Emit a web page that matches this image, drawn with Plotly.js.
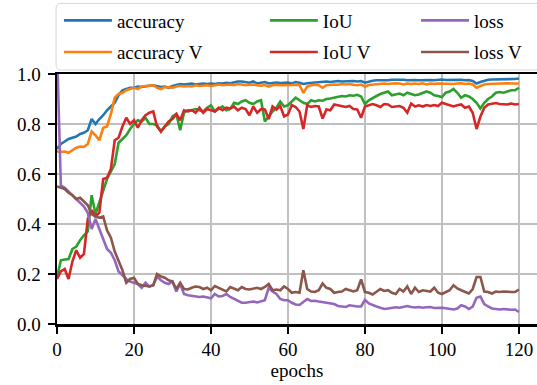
<!DOCTYPE html>
<html>
<head>
<meta charset="utf-8">
<script src="https://cdn.plot.ly/plotly-3.0.1.min.js"></script>
<style>html,body{margin:0;padding:0;background:#fff;}#chart{width:537px;height:385px;}</style>
</head>
<body>
<div id="chart"></div>
<script>
const epochs = Array.from({length: 121}, (_, i) => i);

const accuracy = [
0.70,0.72,0.73,0.74,0.745,0.75,0.76,0.765,0.775,0.82,0.80,0.82,0.835,0.855,0.87,0.885,0.915,0.935,0.94,0.945,
0.945,0.95,0.948,0.952,0.953,0.955,0.95,0.948,0.95,0.945,0.952,0.955,0.96,0.958,0.96,0.962,0.958,0.96,0.962,0.96,
0.962,0.96,0.963,0.962,0.965,0.963,0.968,0.97,0.97,0.968,0.965,0.97,0.962,0.965,0.968,0.962,0.965,0.966,0.964,0.965,
0.966,0.962,0.968,0.965,0.96,0.963,0.965,0.966,0.968,0.97,0.97,0.968,0.97,0.972,0.97,0.971,0.97,0.972,0.97,0.972,
0.965,0.97,0.973,0.975,0.974,0.976,0.975,0.977,0.978,0.976,0.977,0.975,0.977,0.976,0.975,0.976,0.977,0.976,0.975,0.977,
0.978,0.976,0.977,0.978,0.976,0.977,0.975,0.976,0.972,0.962,0.968,0.974,0.977,0.978,0.978,0.979,0.978,0.979,0.98,0.98,
0.982];

const accuracyV = [
0.69,0.688,0.69,0.685,0.695,0.705,0.71,0.708,0.72,0.77,0.755,0.735,0.785,0.79,0.84,0.905,0.92,0.925,0.935,0.94,
0.945,0.94,0.95,0.952,0.953,0.955,0.945,0.94,0.948,0.945,0.945,0.95,0.953,0.95,0.952,0.95,0.955,0.952,0.953,0.955,
0.952,0.955,0.958,0.955,0.957,0.958,0.955,0.96,0.958,0.955,0.957,0.958,0.955,0.953,0.956,0.95,0.955,0.957,0.955,0.955,
0.953,0.956,0.957,0.955,0.925,0.95,0.955,0.957,0.955,0.945,0.955,0.957,0.958,0.957,0.96,0.958,0.96,0.957,0.955,0.958,
0.95,0.956,0.958,0.96,0.962,0.962,0.96,0.962,0.963,0.962,0.958,0.962,0.96,0.962,0.96,0.963,0.958,0.962,0.96,0.962,
0.961,0.963,0.962,0.96,0.962,0.963,0.96,0.962,0.958,0.945,0.952,0.958,0.96,0.961,0.962,0.962,0.963,0.963,0.962,0.963,
0.962];

const iou = [
0.185,0.255,0.258,0.26,0.30,0.31,0.335,0.355,0.37,0.515,0.44,0.49,0.53,0.58,0.61,0.64,0.725,0.74,0.755,0.78,
0.80,0.815,0.81,0.825,0.80,0.80,0.795,0.77,0.79,0.80,0.83,0.84,0.775,0.845,0.855,0.855,0.86,0.855,0.85,0.865,
0.875,0.85,0.86,0.87,0.855,0.86,0.885,0.88,0.89,0.895,0.885,0.88,0.89,0.895,0.81,0.83,0.85,0.865,0.89,0.87,
0.875,0.89,0.905,0.895,0.885,0.88,0.895,0.89,0.895,0.893,0.90,0.902,0.905,0.91,0.912,0.91,0.915,0.913,0.917,0.91,
0.88,0.895,0.905,0.912,0.92,0.925,0.93,0.915,0.92,0.922,0.915,0.925,0.92,0.915,0.918,0.925,0.93,0.925,0.915,0.912,
0.908,0.925,0.93,0.94,0.925,0.905,0.915,0.91,0.90,0.885,0.862,0.885,0.90,0.91,0.925,0.928,0.925,0.93,0.935,0.935,
0.945];

const iouV = [
0.18,0.21,0.22,0.18,0.25,0.295,0.265,0.28,0.42,0.455,0.43,0.445,0.58,0.585,0.62,0.735,0.745,0.79,0.825,0.80,
0.815,0.785,0.815,0.835,0.845,0.85,0.79,0.77,0.79,0.81,0.82,0.84,0.815,0.855,0.85,0.855,0.845,0.865,0.845,0.86,
0.855,0.85,0.865,0.855,0.865,0.862,0.87,0.855,0.865,0.86,0.835,0.87,0.845,0.86,0.858,0.82,0.87,0.858,0.872,0.83,
0.838,0.876,0.868,0.85,0.78,0.875,0.868,0.872,0.87,0.822,0.858,0.855,0.878,0.875,0.87,0.868,0.872,0.86,0.858,0.825,
0.87,0.875,0.88,0.875,0.868,0.88,0.878,0.868,0.87,0.872,0.865,0.845,0.882,0.87,0.875,0.87,0.876,0.872,0.876,0.872,
0.885,0.88,0.875,0.87,0.875,0.878,0.865,0.87,0.845,0.78,0.83,0.865,0.878,0.882,0.884,0.88,0.88,0.878,0.882,0.878,
0.88];

const loss = [
1.10,0.555,0.545,0.53,0.515,0.50,0.485,0.47,0.445,0.38,0.42,0.38,0.345,0.30,0.285,0.255,0.21,0.195,0.18,0.17,
0.165,0.16,0.145,0.165,0.15,0.155,0.19,0.175,0.165,0.16,0.17,0.13,0.16,0.12,0.115,0.112,0.11,0.108,0.11,0.105,
0.103,0.12,0.11,0.112,0.12,0.108,0.10,0.09,0.085,0.085,0.088,0.09,0.086,0.092,0.095,0.145,0.13,0.12,0.10,0.095,
0.095,0.085,0.078,0.076,0.09,0.10,0.092,0.093,0.09,0.088,0.085,0.083,0.08,0.072,0.07,0.068,0.075,0.072,0.07,0.07,
0.097,0.082,0.075,0.07,0.065,0.06,0.062,0.065,0.067,0.065,0.068,0.072,0.068,0.066,0.068,0.065,0.067,0.068,0.064,0.066,
0.065,0.063,0.06,0.058,0.062,0.075,0.07,0.06,0.07,0.105,0.11,0.08,0.07,0.062,0.06,0.058,0.06,0.058,0.057,0.058,
0.048];

const lossV = [
0.55,0.545,0.54,0.525,0.515,0.50,0.505,0.49,0.475,0.44,0.43,0.425,0.43,0.375,0.345,0.29,0.25,0.215,0.165,0.18,
0.185,0.16,0.155,0.152,0.15,0.155,0.20,0.19,0.185,0.175,0.17,0.14,0.165,0.14,0.138,0.145,0.15,0.148,0.14,0.145,
0.135,0.152,0.145,0.14,0.13,0.148,0.14,0.135,0.148,0.14,0.138,0.142,0.145,0.14,0.148,0.16,0.135,0.138,0.135,0.15,
0.14,0.125,0.128,0.125,0.215,0.14,0.13,0.128,0.135,0.162,0.145,0.14,0.125,0.128,0.13,0.14,0.135,0.13,0.135,0.178,
0.128,0.125,0.118,0.128,0.14,0.132,0.135,0.125,0.12,0.14,0.13,0.15,0.12,0.145,0.128,0.135,0.132,0.13,0.145,0.125,
0.12,0.128,0.135,0.155,0.142,0.135,0.128,0.122,0.14,0.188,0.188,0.13,0.128,0.122,0.13,0.128,0.13,0.128,0.128,0.128,
0.138];

const xTicks = [0, 20, 40, 60, 80, 100, 120];
const yTicks = [0.0, 0.2, 0.4, 0.6, 0.8, 1.0];

const FONT = 'Liberation Serif, Times New Roman, serif';
const FS = 19;
const LW = 2.6;

function tr(name, y, color, legend) {
  return {x: epochs, y: y, name: name, type: 'scatter', mode: 'lines',
          line: {color: color, width: LW}, legend: legend, legendgroup: name};
}

const data = [
  tr('accuracy', accuracy, '#1f77b4', 'legend'),
  tr('accuracy V', accuracyV, '#ff7f0e', 'legend'),
  tr('IoU', iou, '#2ca02c', 'legend2'),
  tr('IoU V', iouV, '#d62728', 'legend2'),
  tr('loss', loss, '#9467bd', 'legend3'),
  tr('loss V', lossV, '#8c564b', 'legend3')
];

function leg(x) {
  return {x: x, y: 1.29, xanchor: 'left', yanchor: 'top', bgcolor: 'rgba(0,0,0,0)',
          borderwidth: 0, font: {family: FONT, size: FS, color: '#000'},
          tracegroupgap: 4, traceorder: 'grouped', itemwidth: 48};
}

const layout = {
  width: 537, height: 385,
  margin: {l: 57, r: 0, t: 74, b: 61, pad: 0},
  paper_bgcolor: '#fff', plot_bgcolor: '#fff',
  font: {family: FONT, size: FS, color: '#000'},
  showlegend: true,
  legend: leg(0.004),
  legend2: leg(0.433),
  legend3: leg(0.748),
  xaxis: {
    range: [0, 124.7], tickvals: xTicks, ticktext: xTicks.map(String),
    showgrid: true, gridcolor: '#c0c0c0', gridwidth: 2,
    showline: true, linecolor: '#000', linewidth: 2.5, mirror: true,
    ticks: 'outside', ticklen: 7, tickwidth: 2, tickcolor: '#000',
    zeroline: false, tickfont: {family: FONT, size: FS, color: '#000'},
    title: {text: 'epochs', font: {family: FONT, size: FS, color: '#000'}, standoff: 4}
  },
  yaxis: {
    range: [0, 1], tickvals: yTicks, ticktext: yTicks.map(v => v.toFixed(1)),
    showgrid: true, gridcolor: '#c0c0c0', gridwidth: 2,
    showline: true, linecolor: '#000', linewidth: 2.5,
    ticks: 'outside', ticklen: 7, tickwidth: 2, tickcolor: '#000', ticklabelstandoff: 3,
    zeroline: false, tickfont: {family: FONT, size: FS, color: '#000'}
  },
  shapes: [{
    type: 'path', xref: 'paper', yref: 'paper',
    path: 'M 0.008 1.2824 L 1.05 1.2824 L 1.05 1.016 L 0.008 1.016 Q -0.002 1.016 -0.002 1.04 L -0.002 1.26 Q -0.002 1.2824 0.008 1.2824 Z',
    line: {color: '#d6d6d6', width: 1}, fillcolor: 'rgba(255,255,255,0.8)', layer: 'above'
  }]
};

Plotly.newPlot('chart', data, layout, {displayModeBar: false, staticPlot: true});
</script>
</body>
</html>
